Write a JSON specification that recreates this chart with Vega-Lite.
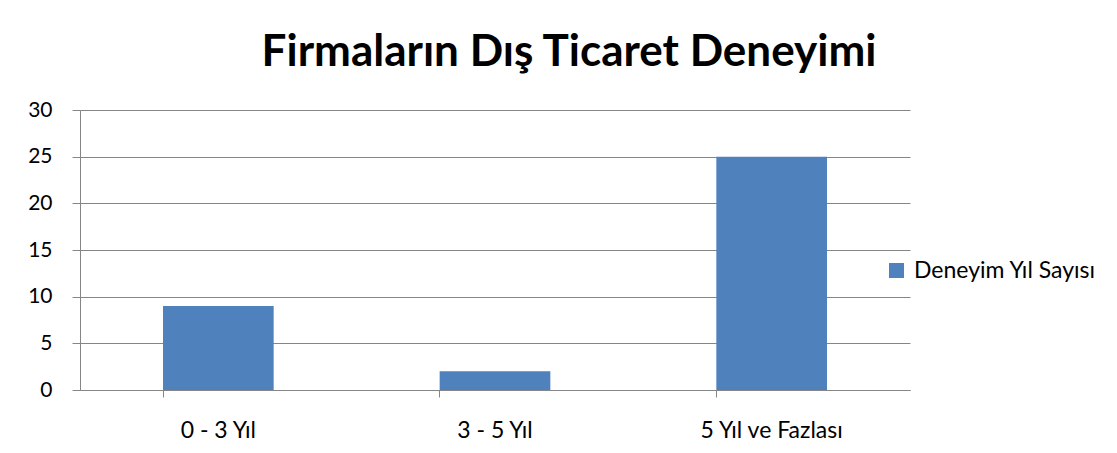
{
  "$schema": "https://vega.github.io/schema/vega-lite/v6.json",
  "autosize": "none",
  "width": 830,
  "height": 280,
  "padding": {"left": 80, "top": 110, "right": 207, "bottom": 63},
  "background": "white",
  "title": {
    "text": "Firmaların Dış Ticaret Deneyimi",
    "font": "Lato",
    "fontSize": 44,
    "fontWeight": "bold",
    "color": "#000000",
    "anchor": "middle",
    "dx": 74,
    "offset": 24
  },
  "data": {
    "values": [
      {"kategori": "0 - 3 Yıl", "deger": 9, "seri": "Deneyim Yıl Sayısı"},
      {"kategori": "3 - 5 Yıl", "deger": 2, "seri": "Deneyim Yıl Sayısı"},
      {"kategori": "5 Yıl ve Fazlası", "deger": 25, "seri": "Deneyim Yıl Sayısı"}
    ]
  },
  "mark": {"type": "bar"},
  "encoding": {
    "x": {
      "field": "kategori",
      "type": "nominal",
      "sort": null,
      "scale": {"paddingInner": 0.6, "paddingOuter": 0.3},
      "axis": {
        "title": null,
        "labelAngle": 0,
        "labelFont": "Lato",
        "labelFontSize": 23,
        "labelColor": "#000000",
        "labelPadding": 22,
        "domainColor": "#868686",
        "tickColor": "#868686",
        "tickSize": 7,
        "bandPosition": 0,
        "grid": false
      }
    },
    "y": {
      "field": "deger",
      "type": "quantitative",
      "scale": {"domain": [0, 30]},
      "axis": {
        "title": null,
        "values": [0, 5, 10, 15, 20, 25, 30],
        "labelFont": "Lato",
        "labelFontSize": 21,
        "labelColor": "#000000",
        "labelPadding": 20,
        "domainColor": "#868686",
        "tickColor": "#868686",
        "tickSize": 8,
        "grid": true,
        "gridColor": "#868686"
      }
    },
    "color": {
      "field": "seri",
      "type": "nominal",
      "scale": {"range": ["#4f81bd"]},
      "legend": {
        "title": null,
        "orient": "none",
        "legendX": 805,
        "legendY": 149,
        "symbolType": "square",
        "symbolSize": 225,
        "symbolStrokeWidth": 0,
        "labelFont": "Lato",
        "labelFontSize": 23,
        "labelLimit": 400,
        "labelColor": "#000000",
        "labelOffset": 6
      }
    }
  },
  "config": {
    "view": {"stroke": null},
    "axis": {"domainWidth": 1, "gridWidth": 1}
  }
}
